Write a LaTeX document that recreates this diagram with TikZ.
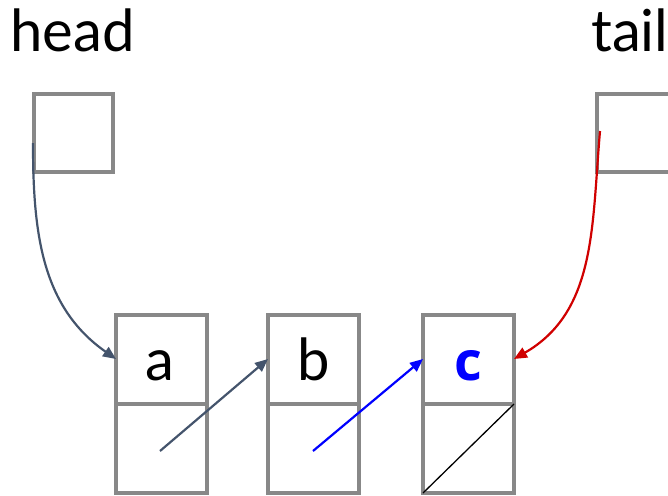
\documentclass[tikz,border=0pt]{standalone}
\usepackage{fontspec}
\setmainfont{Lato}
\newfontfamily\cfont{Open Sans}
\usetikzlibrary{arrows.meta}
\definecolor{boxgray}{HTML}{888888}
\definecolor{slate}{HTML}{44546C}
\definecolor{cblue}{HTML}{0000FF}
\definecolor{cred}{HTML}{D00000}
\tikzset{
  cell/.style={draw=boxgray, line width=3.5pt, minimum width=91pt, minimum height=89pt, inner sep=0pt, outer sep=0pt, anchor=north west},
  ptr/.style={draw=boxgray, line width=3.5pt, minimum width=79pt, minimum height=78pt, inner sep=0pt, outer sep=0pt, anchor=north west},
  lbl/.style={font=\fontsize{58}{60}\selectfont, inner sep=0pt, anchor=base west},
  link/.style={line width=2.2pt, -{Triangle[length=13pt,width=11pt]}},
}
\begin{document}
\begin{tikzpicture}[x=1pt,y=-1pt]
\useasboundingbox (0,0) rectangle (668,495);
\clip (0,0) rectangle (668,495);
\node[lbl] (headtext) at (10,52) {head};
\node[lbl] (tailtext) at (591,52) {tail};
\node[ptr] (headbox) at (34,94) {};
\node[ptr] (tailbox) at (597,94) {};
% cells
\node[cell] (atop) at (116,315) {};
\node[cell] (abot) at (116,404) {};
\node[cell] (btop) at (268,315) {};
\node[cell] (bbot) at (268,404) {};
\node[cell] (ctop) at (423,315) {};
\node[cell] (cbot) at (423,404) {};
\node[lbl, anchor=base] (alab) at (160,380) {a};
\node[lbl, anchor=base] (blab) at (314,380) {b};
\node[lbl, anchor=base, text=cblue, font=\fontsize{54}{56}\selectfont\cfont\bfseries] (clab) at (468,380) {c};
% pointer sources
\coordinate (hsrc) at (33,143);
\coordinate (tsrc) at (600,131);
\coordinate (asrc) at (160,451);
\coordinate (bsrc) at (313,451);
\coordinate (ain) at (116,359);
\coordinate (bin) at (268,359);
\coordinate (cin) at (423,359);
\coordinate (cinr) at (514,359);
\draw[link, slate] (hsrc) to[out=-90, in=145] (ain);
\draw[link, slate] (asrc) -- (bin);
\draw[link, cblue] (bsrc) -- (cin);
\draw[link, cred] (tsrc) to[out=-95, in=30] (cinr);
\draw[black, line width=1.3pt] (cbot.south west) -- (cbot.north east);
\end{tikzpicture}
\end{document}
